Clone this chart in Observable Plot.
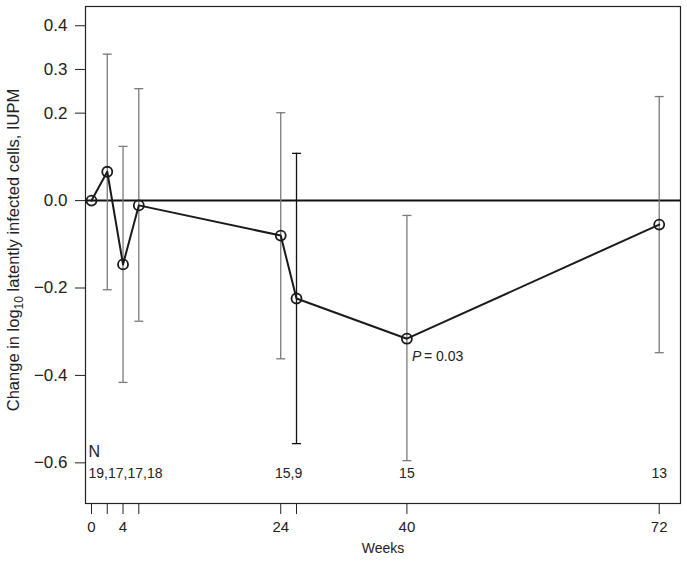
<!DOCTYPE html>
<html>
<head>
<meta charset="utf-8">
<script src="https://cdn.jsdelivr.net/npm/d3@7"></script>
<script src="https://cdn.jsdelivr.net/npm/@observablehq/plot@0.6"></script>
<style>
  html, body { margin: 0; padding: 0; background: white; }
</style>
</head>
<body>
<div id="chart"></div>
<script>
// Data
const weeks = [0, 2, 4, 6, 24, 26, 40, 72];
const change = [0, 0.066, -0.146, -0.011, -0.080, -0.224, -0.316, -0.055];
const ciLow = [null, -0.204, -0.416, -0.276, -0.362, -0.556, -0.595, -0.348];
const ciHigh = [null, 0.335, 0.124, 0.256, 0.201, 0.108, -0.034, 0.238];

const yTicks = [0.4, 0.3, 0.2, 0, -0.2, -0.4, -0.6];
const xTicks = [0, 2, 4, 6, 24, 26, 40, 72];
const xTickLabels = [0, 4, 24, 40, 72];

const nHeader = "N";
const nFirstLabel = "19,17,17,18";
const nWeeks = [25, 40, 72];
const nLabels = ["15,9", "15", "13"];

const pWeek = 40;
const pValue = "0.03";

const data = weeks.map((w, i) => ({week: w, change: change[i], low: ciLow[i], high: ciHigh[i]}));
const bars = data.filter(d => d.low != null);
const pPoint = data.filter(d => d.week === pWeek);

const capSymbol = {
  draw(ctx, size) {
    const r = Math.sqrt(size / Math.PI);
    ctx.moveTo(-r, 0);
    ctx.lineTo(r, 0);
  }
};

const barColor = d => d.week === 26 ? "#111111" : "#7a7a7a";

const chart = Plot.plot({
  width: 687,
  height: 564,
  marginLeft: 85,
  marginRight: 7,
  marginTop: 6,
  marginBottom: 61,
  style: {fontFamily: "'Liberation Sans', Arial, sans-serif", fontSize: "14px", color: "#222", background: "white"},
  x: {domain: [-0.76, 74.7]},
  y: {domain: [-0.693, 0.444]},
  marks: [
    Plot.frame({stroke: "#222", strokeWidth: 1.2}),
    Plot.axisY({ticks: yTicks, tickFormat: d3.format(".1f"), tickSize: 10, tickPadding: 8, label: null, fontSize: 17}),
    Plot.axisX({ticks: xTicks, tickFormat: d => xTickLabels.includes(d) ? String(d) : "", tickSize: 11, tickPadding: 7, label: null, fontSize: 15}),
    Plot.ruleY([0], {stroke: "#111", strokeWidth: 2}),
    Plot.ruleX(bars, {x: "week", y1: "low", y2: "high", stroke: barColor, strokeWidth: 1.3}),
    Plot.dot(bars, {x: "week", y: "low", symbol: capSymbol, r: 4.5, stroke: barColor, strokeWidth: 1.3}),
    Plot.dot(bars, {x: "week", y: "high", symbol: capSymbol, r: 4.5, stroke: barColor, strokeWidth: 1.3}),
    Plot.line(data, {x: "week", y: "change", stroke: "#1a1a1a", strokeWidth: 2}),
    Plot.dot(data, {x: "week", y: "change", r: 5, stroke: "#1a1a1a", strokeWidth: 1.8, fill: "none"}),
    Plot.text([nHeader], {frameAnchor: "bottom-left", textAnchor: "start", dx: 3, dy: -47, fontSize: 16}),
    Plot.text([nFirstLabel], {frameAnchor: "bottom-left", textAnchor: "start", dx: 3, dy: -26, fontSize: 14}),
    Plot.text(nWeeks, {x: d => d, text: (d, i) => nLabels[i], frameAnchor: "bottom", dy: -26, fontSize: 14}),
    Plot.text(pPoint, {x: "week", y: "change", text: () => "P", textAnchor: "start", dx: 5, dy: 18, fontSize: 14, fontStyle: "italic"}),
    Plot.text(pPoint, {x: "week", y: "change", text: () => "= " + pValue, textAnchor: "start", dx: 17, dy: 18, fontSize: 14}),
    Plot.text(["Weeks"], {frameAnchor: "bottom", dy: 49, fontSize: 14})
  ]
});

const svg = d3.select(chart);
const yl = svg.append("text")
  .attr("transform", "translate(15,250) rotate(-90)")
  .attr("text-anchor", "middle")
  .attr("dominant-baseline", "middle")
  .attr("font-size", 16.5)
  .attr("fill", "#222");
yl.append("tspan").text("Change in log");
yl.append("tspan").attr("font-size", 12).attr("dy", 5).text("10");
yl.append("tspan").attr("dy", -5).text(" latently infected cells, IUPM");

document.getElementById("chart").appendChild(chart);
</script>
</body>
</html>
